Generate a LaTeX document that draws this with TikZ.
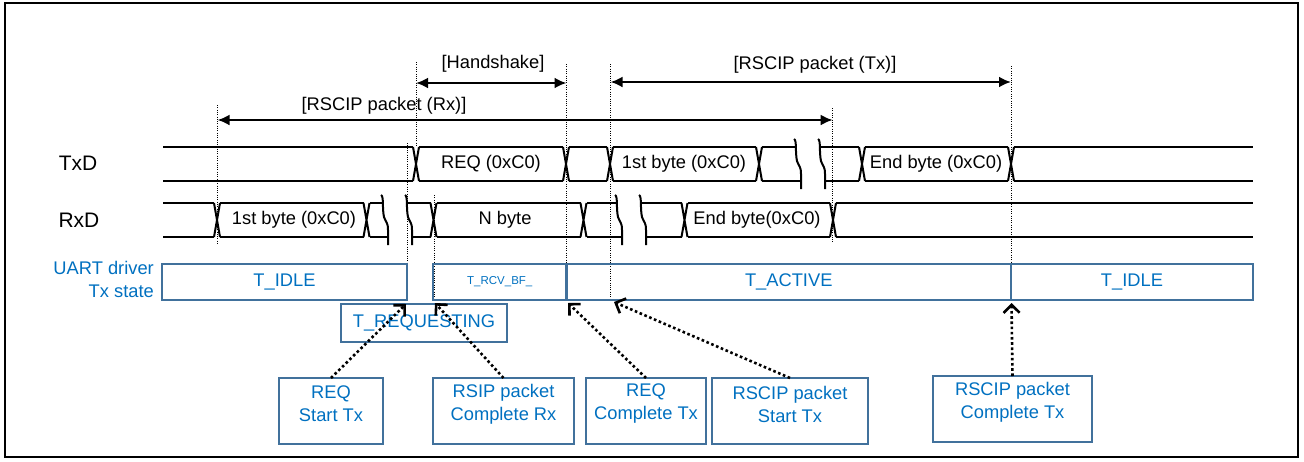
\documentclass[tikz,border=0pt]{standalone}
\usepackage{fontspec}
\setmainfont{Liberation Sans}
\usetikzlibrary{arrows.meta}
\definecolor{statetext}{HTML}{0070C0}
\definecolor{stateline}{HTML}{41719C}

% bus crossing at x=#1 between top #2 and bottom #3
\newcommand\sigcross[3]{\draw[sig] ({#1-3},#2) -- ({#1+3},#3) ({#1-3},#3) -- ({#1+3},#2);}
% wavy break mark at x=#1 for a bus with top #2 and bottom #3
\newcommand\sigbreak[3]{\draw[sig] ({#1-2},{#2-8}) .. controls ({#1+1},{#2-7}) and ({#1-1},{#2+5}) .. ({#1+1},{#2+14})
  .. controls ({#1+3},{#2+20}) and ({#1+5},{#2+19}) .. ({#1+5},{#2+27}) -- ({#1+5},{#3+8});}
% bus segment: top line #1..#2, bottom line #3..#4, levels #5 and #6
\newcommand\sigseg[6]{\draw[sig] (#1,#5) -- (#2,#5) (#3,#6) -- (#4,#6);}

\begin{document}
\begin{tikzpicture}[x=1pt,y=-1pt,
  sig/.style={line width=2pt},
  guide/.style={line width=0.8pt, dash pattern=on 0.9pt off 1.4pt},
  span/.style={line width=2.8pt, {Latex[length=12pt,width=11pt]}-{Latex[length=12pt,width=11pt]}},
  lbl/.style={font=\fontsize{18.3}{22}\selectfont, inner sep=0pt},
  siglbl/.style={font=\fontsize{21}{25}\selectfont, inner sep=0pt},
  state/.style={draw=stateline, line width=2.6pt, text=statetext, font=\fontsize{18.3}{22}\selectfont,
    inner sep=0pt, outer sep=0pt, minimum height=36pt},
  event/.style={draw=stateline, line width=2.4pt, inner sep=0pt, outer sep=0pt, minimum height=66pt},
  evtext/.style={text=statetext, align=center, font=\fontsize{18.3}{23}\selectfont, inner sep=0pt},
  evarrow/.style={line width=2.6pt, dash pattern=on 2.6pt off 2.6pt,
    -{Straight Barb[length=8pt,width=16pt]}}]

\useasboundingbox (0,0) rectangle (1304,461);
\draw[line width=2pt] (5,3) rectangle (1298,457);

% ---- vertical timing guides ----
\draw[guide] (217.5,105) -- (217.5,245);
\draw[guide] (407,143) -- (407,300);
\draw[guide] (416,62) -- (416,147);
\draw[guide] (434,195) -- (434,300);
\draw[guide] (566.5,64) -- (566.5,300);
\draw[guide] (610.5,64) -- (610.5,300);
\draw[guide] (832.7,108) -- (832.7,242);
\draw[guide] (1011,66) -- (1011,300);

% ---- spans ----
\coordinate (hsL) at (416,83);   \coordinate (hsR) at (566.5,83);
\coordinate (txL) at (610.5,82); \coordinate (txR) at (1011,82);
\coordinate (rxL) at (217.5,120);\coordinate (rxR) at (832.7,120);
\draw[span] (hsL) -- (hsR);
\draw[span] (txL) -- (txR);
\draw[span] (rxL) -- (rxR);
\node[lbl] (hsLbl) at (493,64) {[Handshake]};
\node[lbl] (txLbl) at (815,65) {[RSCIP packet (Tx)]};
\node[lbl] (rxLbl) at (384,106) {[RSCIP packet (Rx)]};

% ---- TxD ----
\node[siglbl] (txd) at (78,163) {TxD};
\sigseg{163}{413}{163}{413}{147}{181}
\sigcross{416}{147}{181}
\sigseg{419}{563}{419}{563}{147}{181}
\sigcross{566}{147}{181}
\sigseg{569}{607}{569}{607}{147}{181}
\sigcross{610}{147}{181}
\sigseg{613}{756}{613}{756}{147}{181}
\sigcross{759}{147}{181}
\sigseg{762}{796}{762}{801}{147}{181}
\sigbreak{796}{147}{181}
\sigbreak{820}{147}{181}
\sigseg{820}{859}{825}{859}{147}{181}
\sigcross{862}{147}{181}
\sigseg{865}{1008}{865}{1008}{147}{181}
\sigcross{1011}{147}{181}
\sigseg{1014}{1253}{1014}{1253}{147}{181}
\node[lbl] (txReq) at (491,164) {REQ (0xC0)};
\node[lbl] (txFirst) at (684,164) {1st byte (0xC0)};
\node[lbl] (txEnd) at (936,164) {End byte (0xC0)};

% ---- RxD ----
\node[siglbl] (rxd) at (79,220) {RxD};
\sigseg{163}{214}{163}{214}{203}{237}
\sigcross{217}{203}{237}
\sigseg{220}{363.5}{220}{363.5}{203}{237}
\sigcross{366.5}{203}{237}
\sigseg{369.5}{383}{369.5}{388}{203}{237}
\sigbreak{383}{203}{237}
\sigbreak{407}{203}{237}
\sigseg{407}{430.5}{412}{430.5}{203}{237}
\sigcross{433.5}{203}{237}
\sigseg{436.5}{580.5}{436.5}{580.5}{203}{237}
\sigcross{583.5}{203}{237}
\sigseg{586.5}{617}{586.5}{622}{203}{237}
\sigbreak{617}{203}{237}
\sigbreak{641}{203}{237}
\sigseg{641}{681.5}{646}{681.5}{203}{237}
\sigcross{684.5}{203}{237}
\sigseg{687.5}{830}{687.5}{830}{203}{237}
\sigcross{833}{203}{237}
\sigseg{836}{1253}{836}{1253}{203}{237}
\node[lbl] (rxFirst) at (294,220) {1st byte (0xC0)};
\node[lbl] (rxN) at (505,220) {N byte};
\node[lbl] (rxEnd) at (757,220) {End byte(0xC0)};

% ---- driver state ----
\node[lbl, text=statetext, anchor=east] (uart1) at (154,268) {UART driver};
\node[lbl, text=statetext, anchor=east] (uart2) at (154,291) {Tx state};
\node[state, minimum width=245pt] (idleA) at (284.5,282) {T\_IDLE};
\node[state, minimum width=133.5pt, font=\fontsize{11.5}{14}\selectfont] (rcv) at (499.75,282) {T\_RCV\_BF\_};
\node[state, minimum width=444.5pt] (active) at (788.75,282) {T\_ACTIVE};
\node[state, minimum width=242pt] (idleB) at (1132,282) {T\_IDLE};
\node[state, minimum width=166pt, minimum height=38pt] (req) at (424,323) {T\_REQUESTING};

% ---- events ----
\node[event, minimum width=104pt] (evA) at (331,411) {};
\node[event, minimum width=141pt] (evB) at (503.5,411) {};
\node[event, minimum width=120pt] (evC) at (646,411) {};
\node[event, minimum width=156pt] (evD) at (790,411) {};
\node[event, minimum width=159pt] (evE) at (1012.5,409) {};
\node[evtext] (evAt) at (331,404) {REQ\\Start Tx};
\node[evtext] (evBt) at (503.5,404) {RSIP packet\\Complete Rx};
\node[evtext] (evCt) at (646,404) {REQ\\Complete Tx};
\node[evtext] (evDt) at (790,404) {RSCIP packet\\Start Tx};
\node[evtext] (evEt) at (1012.5,402) {RSCIP packet\\Complete Tx};

\coordinate (tipA) at (406,304);
\coordinate (tipB) at (435,303);
\coordinate (tipC) at (568,303);
\coordinate (tipD) at (614,302);
\coordinate (tipE) at (1011.5,303);
\draw[evarrow] (evA.north) -- (tipA);
\draw[evarrow] (evB.north) -- (tipB);
\draw[evarrow] (evC.north) -- (tipC);
\draw[evarrow] (evD.north) -- (tipD);
\draw[evarrow] (evE.north) -- (tipE);
\end{tikzpicture}
\end{document}
